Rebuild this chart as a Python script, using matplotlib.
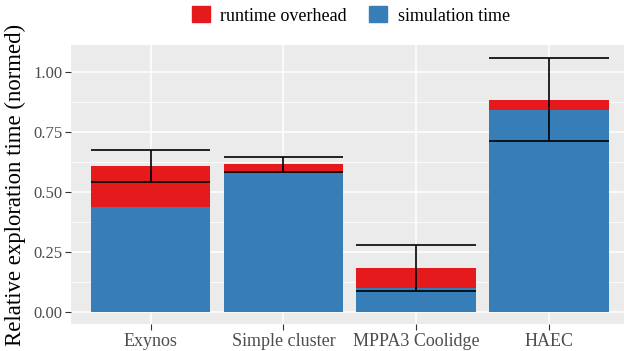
import matplotlib.pyplot as plt
import numpy as np
from matplotlib.patches import Patch
from matplotlib.ticker import MultipleLocator

plt.rcParams['font.family'] = ['Liberation Serif', 'DejaVu Serif']

platforms = ["Exynos", "Simple cluster", "MPPA3 Coolidge", "HAEC"]
sim_time = [0.436, 0.578, 0.098, 0.842]
overhead = [0.169, 0.035, 0.083, 0.041]
err = [0.067, 0.033, 0.095, 0.174]

red = "#E41A1C"
blue = "#377EB8"

fig = plt.figure(figsize=(6.24, 3.51), dpi=100)
ax = fig.add_axes([71 / 624, 26.7 / 351, 557.7 / 624, 279.3 / 351])
ax.set_facecolor("#EBEBEB")

x = np.arange(len(platforms))
total = np.array(sim_time) + np.array(overhead)

ax.bar(x, sim_time, width=0.9, color=blue, zorder=3)
ax.bar(x, overhead, bottom=sim_time, width=0.9, color=red, zorder=3)

# error bars spanning the bar width
ax.vlines(x, total - err, total + err, color="black", lw=1.2, zorder=4)
ax.hlines(total - err, x - 0.45, x + 0.45, color="black", lw=1.2, zorder=4)
ax.hlines(total + err, x - 0.45, x + 0.45, color="black", lw=1.2, zorder=4)

ax.set_xlim(-0.6, 3.6)
ax.set_ylim(-0.053, 1.111)
ax.set_xticks(x)
ax.set_xticklabels(platforms, fontsize=13)
ax.yaxis.set_minor_locator(MultipleLocator(0.125))
ax.set_yticks([0, 0.25, 0.5, 0.75, 1.0])
ax.set_yticklabels(["0.00", "0.25", "0.50", "0.75", "1.00"], fontsize=12)

ax.grid(which="major", color="white", lw=1.1, zorder=0)
ax.grid(which="minor", axis="y", color="white", lw=0.55, zorder=0)
ax.tick_params(which="major", length=4, width=0.8, color="#333333",
               labelcolor="#4D4D4D", pad=2)
ax.tick_params(which="minor", length=0)
for s in ax.spines.values():
    s.set_visible(False)

ax.set_ylabel("Relative exploration time (normed)", fontsize=16.4, labelpad=5)

handles = [Patch(color=red, label="runtime overhead"),
           Patch(color=blue, label="simulation time")]
fig.legend(handles=handles, loc="center", bbox_to_anchor=(0.562, 0.956), ncol=2,
           frameon=False, fontsize=13, handlelength=1.0, handleheight=1.0,
           handletextpad=0.6, columnspacing=1.2)

fig.savefig("out.png", dpi=100)
